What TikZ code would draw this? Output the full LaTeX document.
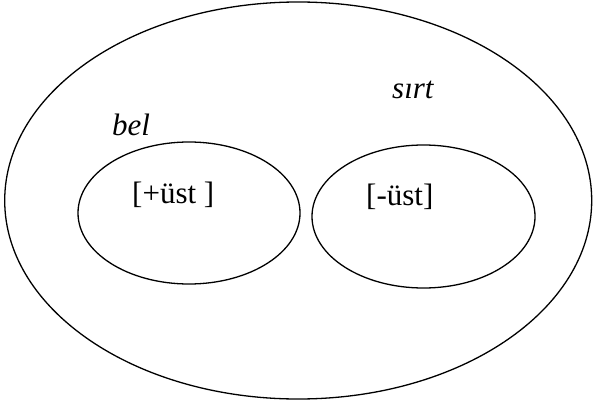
\documentclass[tikz,border=0pt]{standalone}
\usepackage{fontspec}
\setmainfont{Liberation Serif}
\usetikzlibrary{shapes.geometric}
\begin{document}
\begin{tikzpicture}[x=1pt,y=-1pt,
  ring/.style={draw, ellipse, line width=1.3pt, inner sep=0pt},
  lbl/.style={anchor=base west, inner sep=0pt, font=\fontsize{31}{31}\selectfont}]
\useasboundingbox (0,0) rectangle (593,401);
\node[ring, minimum width=587pt, minimum height=397pt] (outer) at (298.2,200.5) {};
\node[ring, minimum width=222pt, minimum height=142pt] (left) at (189,213) {};
\node[ring, minimum width=223pt, minimum height=143pt] (right) at (423.5,216.5) {};
\node[lbl] (sirt) at (392,99) {\itshape sırt};
\node[lbl] (bel) at (112,135) {\itshape bel};
\node[lbl] (plus) at (132,203) {[+üst ]};
\node[lbl] (minus) at (366,205) {[-üst]};
\end{tikzpicture}
\end{document}
